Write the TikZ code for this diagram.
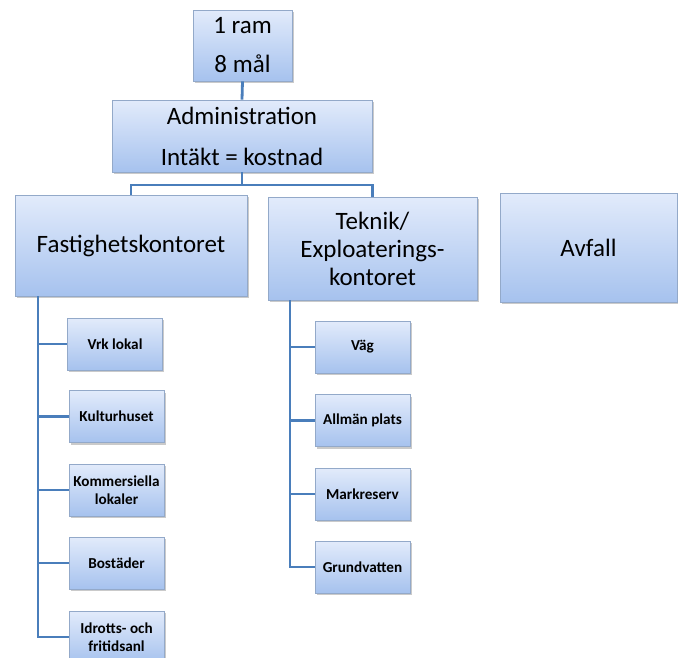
\documentclass[tikz,border=0pt]{standalone}
\usepackage{fontspec}
\setmainfont{Carlito}
\usetikzlibrary{shadows}
\definecolor{boxtop}{HTML}{E2EBFB}
\definecolor{boxbot}{HTML}{A6C2EE}
\definecolor{boxline}{HTML}{93A9C9}
\definecolor{conn}{HTML}{4A7EBB}
\tikzset{
  orgbox/.style={draw=boxline, line width=0.8pt, top color=boxtop, bottom color=boxbot,
    align=center, inner sep=2pt, text=black,
    drop shadow={shadow xshift=1.5pt, shadow yshift=-2pt, opacity=0.35, fill=black!60}},
  bigbox/.style={orgbox, font=\fontsize{25}{28}\selectfont},
  smallbox/.style={orgbox, font=\bfseries\fontsize{15.2}{18.5}\selectfont,
    minimum width=95pt, minimum height=52pt},
  link/.style={draw=conn, line width=2.8pt}
}
\begin{document}
\begin{tikzpicture}[x=1pt,y=-1pt]
\useasboundingbox (0,0) rectangle (678,657);
\node[bigbox, font=\fontsize{25}{39}\selectfont, minimum width=99pt, minimum height=71pt] (top) at (242.5,45.5) {1 ram\\8 mål};
\node[bigbox, font=\fontsize{25}{41}\selectfont, minimum width=260pt, minimum height=72pt] (admin) at (242,136) {Administration\\Intäkt = kostnad};
\node[bigbox, minimum width=232pt, minimum height=101pt] (fast) at (131,245.5) {Fastighetskontoret};
\node[bigbox, minimum width=209pt, minimum height=103pt] (tek) at (372.5,248.5) {Teknik/\\Exploaterings-\\kontoret};
\node[bigbox, minimum width=177pt, minimum height=109pt] (avf) at (588.5,247.5) {Avfall};

\node[smallbox] (vrk) at (115,344) {Vrk lokal};
\node[smallbox] (kul) at (116.5,416.5) {Kulturhuset};
\node[smallbox] (kom) at (116.5,490) {Kommersiella\\lokaler};
\node[smallbox] (bos) at (116.5,563) {Bostäder};
\node[smallbox] (idr) at (116.5,637) {Idrotts- och\\fritidsanl};

\node[smallbox] (vag) at (362.5,347) {Väg};
\node[smallbox] (all) at (362.5,420.5) {Allmän plats};
\node[smallbox] (mar) at (362.5,494) {Markreserv};
\node[smallbox] (gru) at (362.5,567) {Grundvatten};

\coordinate (lsp) at (38,0);
\coordinate (rsp) at (290,0);
\coordinate (hbar) at (0,185);

\draw[link] (top.south) -- (admin.north);
\draw[link] (admin.south) -- (admin.south |- hbar) -| (fast.north);
\draw[link] (admin.south |- hbar) -| (tek.north);
\draw[link] (fast.south -| lsp) |- (idr.west);
\foreach \n in {vrk,kul,kom,bos} \draw[link] (lsp |- \n.west) -- (\n.west);
\draw[link] (tek.south -| rsp) |- (gru.west);
\foreach \n in {vag,all,mar} \draw[link] (rsp |- \n.west) -- (\n.west);
\end{tikzpicture}
\end{document}
